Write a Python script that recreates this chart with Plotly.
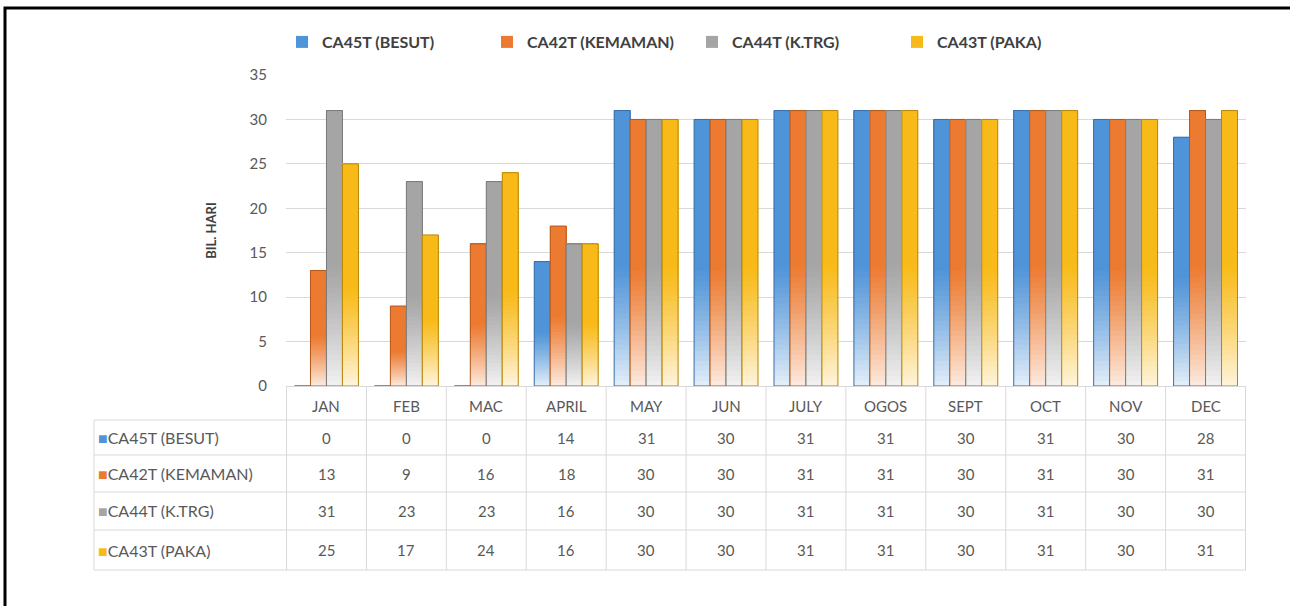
import plotly.graph_objects as go

months = ["JAN", "FEB", "MAC", "APRIL", "MAY", "JUN", "JULY", "OGOS", "SEPT", "OCT", "NOV", "DEC"]
besut = [0, 0, 0, 14, 31, 30, 31, 31, 30, 31, 30, 28]
kemaman = [13, 9, 16, 18, 30, 30, 31, 31, 30, 31, 30, 31]
ktrg = [31, 23, 23, 16, 30, 30, 31, 31, 30, 31, 30, 30]
paka = [25, 17, 24, 16, 30, 30, 31, 31, 30, 31, 30, 31]

names = ["CA45T (BESUT)", "CA42T (KEMAMAN)", "CA44T (K.TRG)", "CA43T (PAKA)"]
series = [besut, kemaman, ktrg, paka]
colors = ["#4F93D8", "#EC7A30", "#A5A5A5", "#F8BA18"]
edges = ["#3A6FA8", "#B3581C", "#7A7A7A", "#B88708"]

FONT = "Lato, 'Open Sans', sans-serif"
GREY = "#595959"
LINE = "#D9D9D9"
H = 606


def mix(hexcol, w):
    r, g, b = int(hexcol[1:3], 16), int(hexcol[3:5], 16), int(hexcol[5:7], 16)
    r = round(r + (255 - r) * w)
    g = round(g + (255 - g) * w)
    b = round(b + (255 - b) * w)
    return f"rgb({r},{g},{b})"


def py(px):
    return (H - px) / H


fig = go.Figure()

# each bar fades to white in its lower half: overlapping slices in one offsetgroup,
# every slice runs to the bar top so the next one covers it without seams
n = 24
fade = 0.45
for name, vals, col, edge in zip(names, series, colors, edges):
    for k in range(n):
        w = 0.85 * (1 - (k + 0.5) / n) ** 1.2
        fig.add_trace(go.Bar(
            x=months, y=[v * (1 - fade * k / n) for v in vals], base=[v * fade * k / n for v in vals],
            offsetgroup=name, legendgroup=name, showlegend=False,
            marker=dict(color=mix(col, w), line=dict(width=0)), hoverinfo="skip"))
    fig.add_trace(go.Bar(
        x=months, y=[v * (1 - fade) for v in vals], base=[v * fade for v in vals],
        offsetgroup=name, legendgroup=name, name=name,
        marker=dict(color=col, line=dict(width=0))))
    fig.add_trace(go.Bar(
        x=months, y=vals, offsetgroup=name, legendgroup=name, showlegend=False,
        marker=dict(color="rgba(0,0,0,0)", line=dict(width=1, color=edge)), hoverinfo="skip"))

# data table under the axis
row_tops = [420, 455, 492, 530]
row_bottom = 570
annotations = []
for m in months:
    annotations.append(dict(x=m, y=py(406), xref="x", yref="paper", yanchor="middle", text=m,
                            showarrow=False, font=dict(size=15, color=GREY, family=FONT)))
for i, (name, vals, col) in enumerate(zip(names, series, colors)):
    top = row_tops[i]
    bot = row_tops[i + 1] if i + 1 < len(row_tops) else row_bottom
    yc = py((top + bot) / 2)
    annotations.append(dict(x=96 / 1290, y=yc, xref="paper", yref="paper", xanchor="left", yanchor="middle",
                            text=f"<span style='color:{col};font-size:16px'>■</span>{name}",
                            showarrow=False, font=dict(size=16, color=GREY, family=FONT)))
    for m, v in zip(months, vals):
        annotations.append(dict(x=m, y=yc, xref="x", yref="paper", yanchor="middle", text=str(v),
                                showarrow=False, font=dict(size=15, color=GREY, family=FONT)))

shapes = []
for yy in row_tops + [row_bottom]:
    shapes.append(dict(type="line", xref="paper", yref="paper", x0=94 / 1290, x1=1246 / 1290,
                       y0=py(yy), y1=py(yy), line=dict(color=LINE, width=1)))
shapes.append(dict(type="line", xref="paper", yref="paper", x0=94 / 1290, x1=94 / 1290,
                   y0=py(row_tops[0]), y1=py(row_bottom), line=dict(color=LINE, width=1)))
for j in range(len(months) + 1):
    shapes.append(dict(type="line", xref="x", yref="paper", x0=j - 0.5, x1=j - 0.5,
                       y0=py(386), y1=py(row_bottom), line=dict(color=LINE, width=1)))
shapes.append(dict(type="rect", xref="paper", yref="paper",
                   x0=5 / 1290, x1=1.05, y0=-0.05, y1=py(8),
                   line=dict(color="black", width=3), fillcolor="rgba(0,0,0,0)"))

fig.update_layout(
    width=1290, height=H,
    margin=dict(l=0, r=0, t=0, b=0, autoexpand=False),
    paper_bgcolor="white", plot_bgcolor="white",
    barmode="group", bargap=0.2, bargroupgap=0,
    font=dict(family=FONT, color=GREY),
    showlegend=True,
    legend=dict(orientation="h", x=282 / 1290, y=py(42), xanchor="left", yanchor="middle",
                entrywidth=160, font=dict(size=16, color="#404040", family=FONT, weight="bold")),
    xaxis=dict(domain=[286 / 1290, 1246 / 1290], showticklabels=False, showgrid=False,
               showline=True, linecolor=LINE, ticks=""),
    yaxis=dict(domain=[py(386), py(75)], range=[0, 35], dtick=5,
               gridcolor=LINE, zeroline=False, showline=False,
               tickfont=dict(size=15, color=GREY), ticklabelstandoff=18,
               title=dict(text="<b>BIL. HARI</b>", font=dict(size=13, color="#404040"), standoff=30)),
    annotations=annotations,
    shapes=shapes,
)

fig.write_html("out.html", config={"displayModeBar": False},
               post_script="document.body.style.margin='0';")
